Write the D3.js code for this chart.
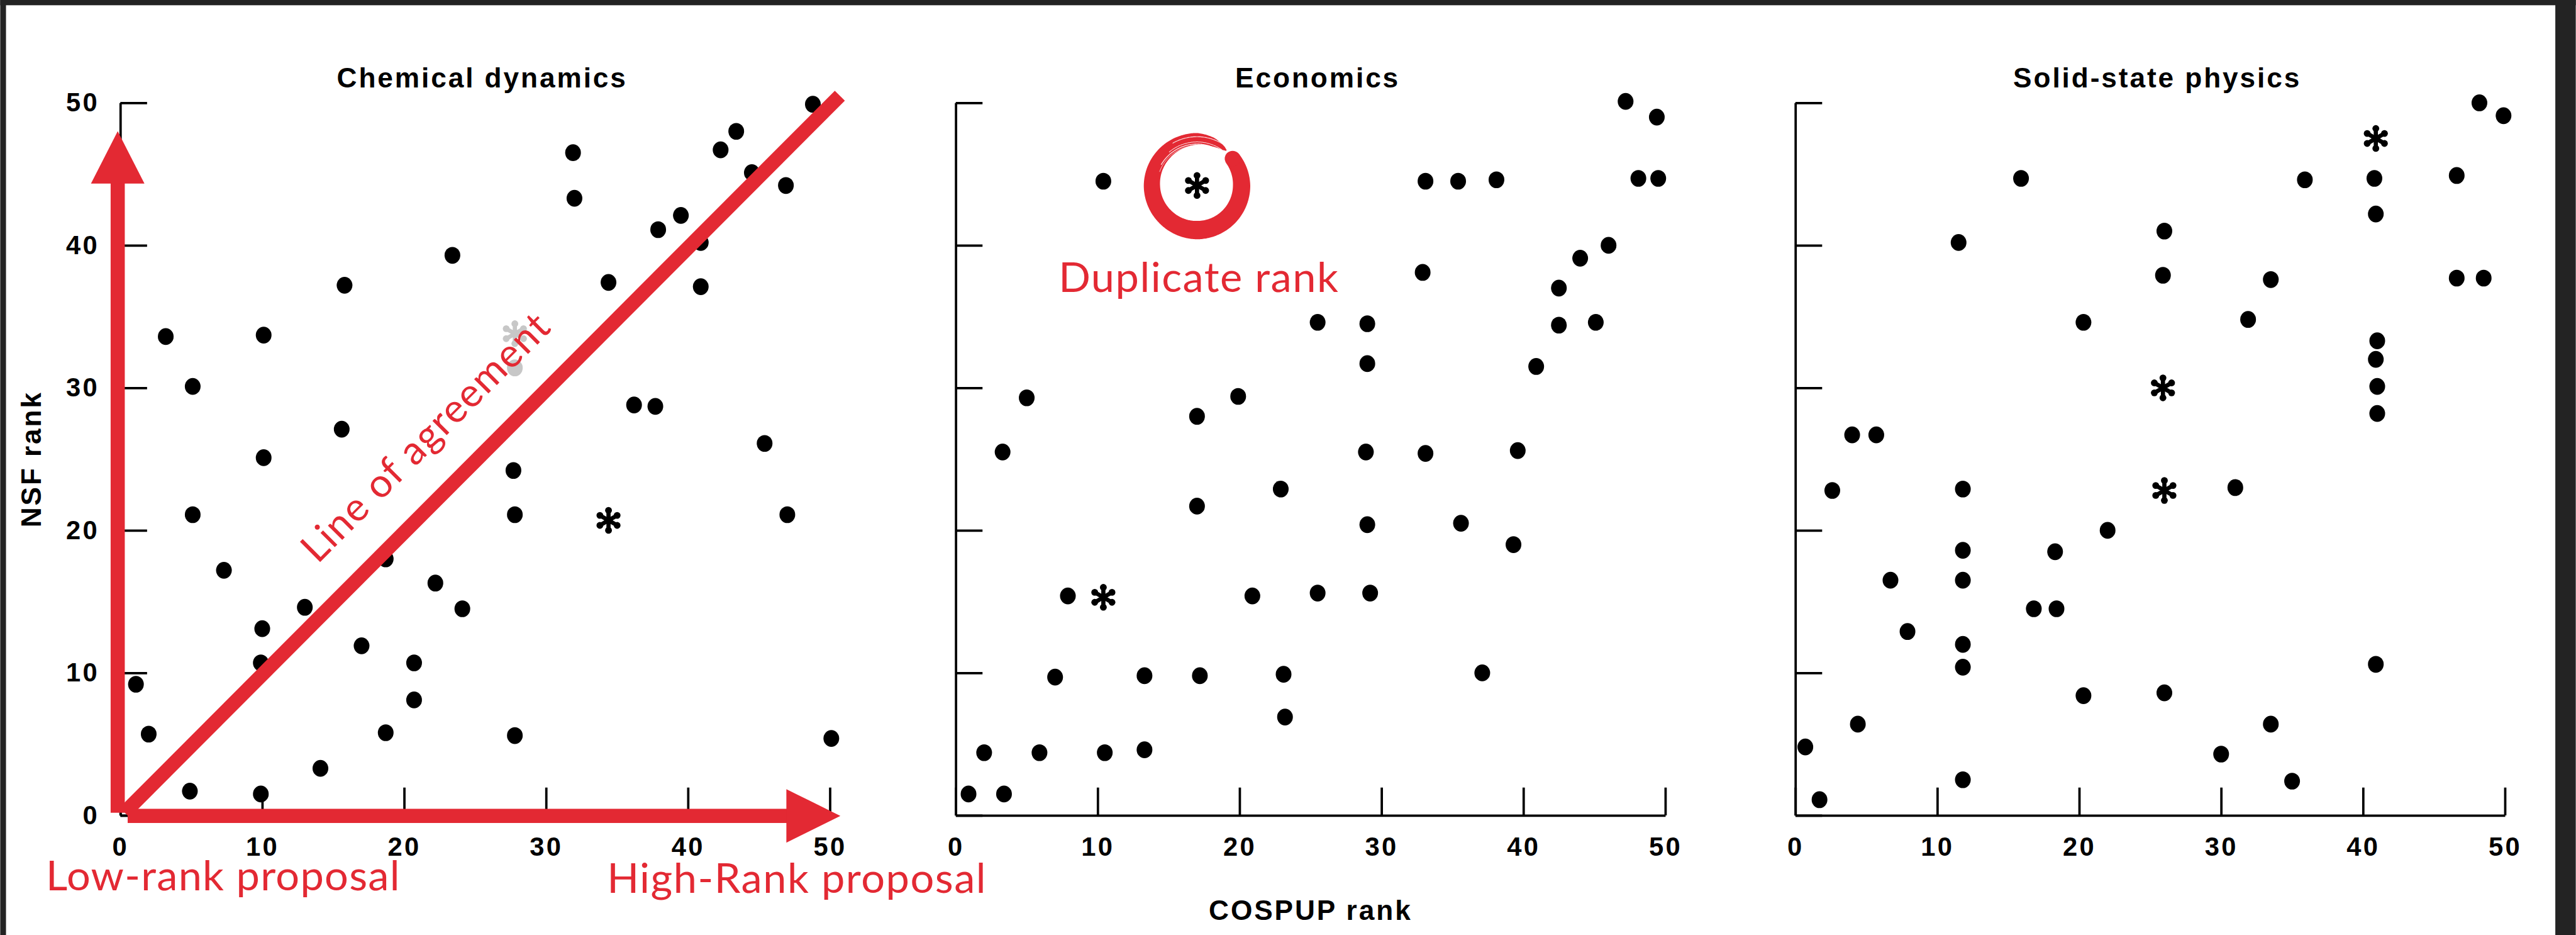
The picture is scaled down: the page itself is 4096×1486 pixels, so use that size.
<!DOCTYPE html>
<html>
<head>
<meta charset="utf-8">
<script src="https://cdn.jsdelivr.net/npm/d3@7"></script>
<style>
  html, body { margin: 0; padding: 0; background: #fff; overflow: hidden; }
  svg { display: block; }
</style>
</head>
<body>
<svg id="chart" width="4096" height="1486" viewBox="0 0 4911 1782"></svg>
<script>
// Each point: [COSPUP rank, NSF rank]
const panelTitles = ["Chemical dynamics", "Economics", "Solid-state physics"];
const tickValues = [0, 10, 20, 30, 40, 50];

const chemDots = [
  [48.8, 49.9], [43.4, 48.0], [42.3, 46.7], [31.9, 46.5], [44.5, 45.1], [46.9, 44.2],
  [32.0, 43.3], [39.5, 42.1], [37.9, 41.1], [40.9, 40.2], [23.4, 39.3], [15.8, 37.2],
  [34.4, 37.4], [40.9, 37.1], [3.2, 33.6], [10.1, 33.7], [27.8, 31.4], [5.1, 30.1],
  [36.2, 28.8], [37.7, 28.7], [15.6, 27.1], [45.4, 26.1], [10.1, 25.1], [27.7, 24.2],
  [5.1, 21.1], [27.8, 21.1], [47.0, 21.1], [7.3, 17.2], [18.7, 18.0], [22.2, 16.3],
  [13.0, 14.6], [24.1, 14.5], [10.0, 13.1], [17.0, 11.9], [9.9, 10.7], [20.7, 10.7],
  [1.1, 9.2], [20.7, 8.1], [2.0, 5.7], [18.7, 5.8], [27.8, 5.6], [50.1, 5.4],
  [14.1, 3.3], [4.9, 1.7], [9.9, 1.5]
];
const chemStars = [[34.4, 20.7], [27.8, 33.8]];

const econDots = [
  [47.2, 50.1], [49.4, 49.0], [10.4, 44.5], [33.1, 44.5], [35.4, 44.5], [38.1, 44.6],
  [48.1, 44.7], [49.5, 44.7], [46.0, 40.0], [44.0, 39.1], [32.9, 38.1], [42.5, 37.0],
  [25.5, 34.6], [29.0, 34.5], [42.5, 34.4], [45.1, 34.6], [29.0, 31.7], [40.9, 31.5],
  [5.0, 29.3], [19.9, 29.4], [17.0, 28.0], [3.3, 25.5], [28.9, 25.5], [33.1, 25.4],
  [39.6, 25.6], [22.9, 22.9], [17.0, 21.7], [29.0, 20.4], [35.6, 20.5], [39.3, 19.0],
  [7.9, 15.4], [20.9, 15.4], [25.5, 15.6], [29.2, 15.6], [7.0, 9.7], [13.3, 9.8],
  [17.2, 9.8], [23.1, 9.9], [37.1, 10.0], [23.2, 6.9], [2.0, 4.4], [5.9, 4.4],
  [10.5, 4.4], [13.3, 4.6], [0.9, 1.5], [3.4, 1.5]
];
const econStars = [[17.0, 44.2], [10.4, 15.3]];

const solidDots = [
  [48.2, 50.0], [49.9, 49.1], [15.9, 44.7], [35.9, 44.6], [40.8, 44.7], [46.6, 44.9],
  [40.9, 42.2], [26.0, 41.0], [11.5, 40.2], [25.9, 37.9], [33.5, 37.6], [46.6, 37.7],
  [48.5, 37.7], [20.3, 34.6], [31.9, 34.8], [41.0, 33.3], [40.9, 32.0], [41.0, 30.1],
  [41.0, 28.2], [4.0, 26.7], [5.7, 26.7], [2.6, 22.8], [11.8, 22.9], [31.0, 23.0],
  [22.0, 20.0], [11.8, 18.6], [18.3, 18.5], [6.7, 16.5], [11.8, 16.5], [16.8, 14.5],
  [18.4, 14.5], [7.9, 12.9], [11.8, 12.0], [11.8, 10.4], [40.9, 10.6], [20.3, 8.4],
  [26.0, 8.6], [4.4, 6.4], [33.5, 6.4], [0.7, 4.8], [30.0, 4.3], [11.8, 2.5],
  [35.0, 2.4], [1.7, 1.1]
];
const solidStars = [[40.9, 47.5], [25.9, 30.0], [26.0, 22.8]];

const panelDots = [chemDots, econDots, solidDots];
const panelStars = [chemStars, econStars, solidStars];

// Annotation values
const agreementLine = [[0.3, 0.2], [50.7, 50.5]];
const duplicatePoint = [17.0, 44.2];

// ---- layout ----
const W = 4911, H = 1782;
const panelLeft = [229, 1822, 3423];
const plotW = 1353, yTop = 196, yBottom = 1554;
const RED = "#e32933";
const BOLD = "'Liberation Sans', Arial, Helvetica, sans-serif";
const RED_FONT = "Lato, 'Open Sans', sans-serif";

const svg = d3.select("#chart");
svg.append("rect").attr("width", W).attr("height", H).attr("fill", "#fff");

// dark window frame around the figure
const frame = svg.append("g").attr("fill", "#232323");
frame.append("rect").attr("x", 0).attr("y", 0).attr("width", W).attr("height", 10);
frame.append("rect").attr("x", 0).attr("y", 0).attr("width", 11).attr("height", H);
frame.append("rect").attr("x", 4872).attr("y", 0).attr("width", W - 4872).attr("height", H);

const y = d3.scaleLinear().domain([0, 50]).range([yBottom, yTop]);
const xScales = panelLeft.map(l => d3.scaleLinear().domain([0, 50]).range([l, l + plotW]));

function drawStar(g, cx, cy) {
  const arm = 19, blob = 6.5;
  const s = g.append("g").attr("transform", `translate(${cx},${cy})`);
  const angles = [90, 30, -30, 210, 150, 270].map(a => a * Math.PI / 180);
  const ends = angles.map(a => [arm * Math.cos(a), -arm * Math.sin(a)]);
  [[0, 5], [1, 3], [2, 4]].forEach(([i, j]) => {
    s.append("line")
      .attr("x1", ends[i][0]).attr("y1", ends[i][1])
      .attr("x2", ends[j][0]).attr("y2", ends[j][1])
      .attr("stroke", "#000").attr("stroke-width", 8).attr("stroke-linecap", "round");
  });
  s.selectAll("circle").data(ends).join("circle")
    .attr("cx", d => d[0]).attr("cy", d => d[1]).attr("r", blob).attr("fill", "#000");
}

panelTitles.forEach((title, i) => {
  const x = xScales[i];
  const g = svg.append("g");

  // y axis: ticks point into the plot
  const gy = g.append("g").attr("transform", `translate(${panelLeft[i]},0)`)
    .call(d3.axisLeft(y).tickValues(tickValues).tickSizeInner(-51).tickSizeOuter(0)
      .tickPadding(40).tickFormat(i === 0 ? d3.format("d") : () => ""));
  // x axis
  const gx = g.append("g").attr("transform", `translate(0,${yBottom})`)
    .call(d3.axisBottom(x).tickValues(tickValues).tickSizeInner(-53).tickSizeOuter(0)
      .tickPadding(42).tickFormat(d3.format("d")));

  [gx, gy].forEach(a => {
    a.selectAll("path, line").attr("stroke", "#000").attr("stroke-width", 4.5);
    a.selectAll("text").attr("font-family", BOLD).attr("font-weight", "bold")
      .attr("font-size", 50).attr("fill", "#000").attr("letter-spacing", 4);
  });

  g.append("text")
    .attr("x", panelLeft[i] + 690).attr("y", 167)
    .attr("text-anchor", "middle")
    .attr("font-family", BOLD).attr("font-weight", "bold").attr("font-size", 53)
    .attr("letter-spacing", 3.5)
    .text(title);

  g.append("g").selectAll("ellipse").data(panelDots[i]).join("ellipse")
    .attr("cx", d => x(d[0])).attr("cy", d => y(d[1]))
    .attr("rx", 15).attr("ry", 16).attr("fill", "#000");

  panelStars[i].forEach(d => drawStar(g, x(d[0]), y(d[1])));
});

// axis titles
svg.append("text")
  .attr("transform", `translate(78,${(yTop + yBottom) / 2}) rotate(-90)`)
  .attr("text-anchor", "middle")
  .attr("font-family", BOLD).attr("font-weight", "bold").attr("font-size", 53)
  .attr("letter-spacing", 3.5)
  .text("NSF rank");

svg.append("text")
  .attr("x", panelLeft[1] + plotW / 2).attr("y", 1753)
  .attr("text-anchor", "middle")
  .attr("font-family", BOLD).attr("font-weight", "bold").attr("font-size", 53)
  .attr("letter-spacing", 3.5)
  .text("COSPUP rank");

// ---- red annotations on the first panel ----
const x0 = xScales[0];
const ann = svg.append("g").attr("fill", RED);

// line of agreement
ann.append("line")
  .attr("x1", x0(agreementLine[0][0])).attr("y1", y(agreementLine[0][1]))
  .attr("x2", x0(agreementLine[1][0])).attr("y2", y(agreementLine[1][1]))
  .attr("stroke", RED).attr("stroke-width", 27);

// vertical arrow (NSF rank)
const ax = x0(0) - 5, shaft = 27, headW = 102, headL = 100;
const vTip = y(50) + 54, vBase = vTip + headL;
ann.append("rect").attr("x", ax - shaft / 2).attr("y", vBase - 1)
  .attr("width", shaft).attr("height", yBottom - 5 - vBase + 1);
ann.append("path").attr("d", `M${ax - headW / 2},${vBase} L${ax + headW / 2},${vBase} L${ax},${vTip} Z`);

// horizontal arrow (COSPUP rank)
const ay = yBottom + 1, hTip = x0(50) + 20, hBase = hTip - headL - 3;
ann.append("rect").attr("x", x0(0) + 14).attr("y", ay - shaft / 2)
  .attr("width", hBase - (x0(0) + 14) + 1).attr("height", shaft);
ann.append("path").attr("d", `M${hBase},${ay - headW / 2} L${hBase},${ay + headW / 2} L${hTip},${ay} Z`);

// label along the line, on a translucent backing
const lab = svg.append("g").attr("transform", `translate(605,1076) rotate(-45)`);
const backing = lab.append("rect").attr("fill", "#fff").attr("fill-opacity", 0.78);
const labText = lab.append("text")
  .attr("font-family", RED_FONT).attr("font-size", 76).attr("letter-spacing", 2)
  .attr("fill", RED)
  .text("Line of agreement");
const labLen = labText.node().getComputedTextLength();
backing.attr("x", -8).attr("y", -80).attr("width", labLen + 16).attr("height", 102);

svg.append("text")
  .attr("x", 87).attr("y", 1697)
  .attr("font-family", RED_FONT).attr("font-size", 80).attr("letter-spacing", 1.5)
  .attr("fill", RED)
  .text("Low-rank proposal");
svg.append("text")
  .attr("x", 1157).attr("y", 1702)
  .attr("font-family", RED_FONT).attr("font-size", 80).attr("letter-spacing", 1.8)
  .attr("fill", RED)
  .text("High-Rank proposal");

// ---- duplicate-rank brush circle on the second panel ----
const cx = xScales[1](duplicatePoint[0]), cy = y(duplicatePoint[1]);
// [angle clockwise from top (deg), centre radius, thickness]
const ringProfile = [
  [53, 85, 30], [90, 85, 33], [135, 85, 34], [180, 85, 35], [225, 85, 33],
  [270, 86, 31], [315, 87, 27], [345, 88, 24], [360, 89, 22], [380, 88, 17],
  [395, 87, 8], [400, 87, 2]
];
const rcAt = d3.scaleLinear().domain(ringProfile.map(d => d[0])).range(ringProfile.map(d => d[1]));
const tAt = d3.scaleLinear().domain(ringProfile.map(d => d[0])).range(ringProfile.map(d => d[2]));
const thetas = d3.range(53, 400.5, 1);
const polar = (th, r) => [cx + r * Math.sin(th * Math.PI / 180), cy - r * Math.cos(th * Math.PI / 180)];
const outer = thetas.map(th => polar(th, rcAt(th) + tAt(th) / 2));
const inner = thetas.slice().reverse().map(th => polar(th, rcAt(th) - tAt(th) / 2));
svg.append("path").attr("d", d3.line()(outer.concat(inner)) + "Z").attr("fill", RED);
const capC = polar(53, 85);
svg.append("circle").attr("cx", capC[0]).attr("cy", capC[1]).attr("r", 15).attr("fill", RED);
// dry-brush streaks across the thin upper part
[[300, 385, 79, 1.6], [320, 395, 83, 1.2], [330, 392, 93, 1.4], [290, 370, 76, 1.0]].forEach(([a0, a1, r, w]) => {
  const pts = d3.range(a0, a1 + 0.5, 1).map(th => polar(th, r));
  svg.append("path").attr("d", d3.line()(pts)).attr("fill", "none")
    .attr("stroke", "#fff").attr("stroke-width", w).attr("stroke-opacity", 0.85);
});

svg.append("text")
  .attr("x", 2018).attr("y", 557)
  .attr("font-family", RED_FONT).attr("font-size", 80).attr("letter-spacing", 1.8)
  .attr("fill", RED)
  .text("Duplicate rank");
</script>
</body>
</html>
